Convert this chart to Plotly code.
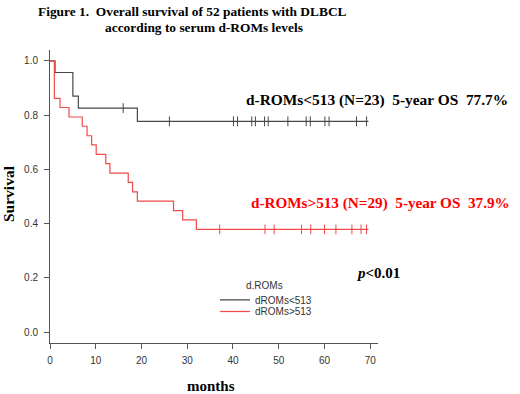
import plotly.graph_objects as go

# ---- data ----
black_name = "dROMs<513"
black_event_months = [1.1, 5.0, 6.2, 19.1]
black_surv = [0.957, 0.870, 0.826, 0.777]
black_censor_months = [16.0, 26.1, 40.1, 41.0, 44.1, 44.9, 46.9, 47.7, 52.0,
                       56.0, 56.9, 60.1, 61.0, 67.0, 69.2]
black_end_month = 69.6

red_name = "dROMs>513"
red_event_months = [0.95, 2.2, 4.15, 7.05, 8.1, 9.1, 10.1, 12.2, 13.1, 17.1,
                    18.05, 19.1, 27.0, 29.0, 32.0]
red_surv = [0.862, 0.828, 0.793, 0.759, 0.724, 0.690, 0.655, 0.621, 0.586,
            0.552, 0.517, 0.483, 0.448, 0.414, 0.379]
red_censor_months = [37.1, 47.0, 49.0, 55.0, 57.0, 60.0, 62.5, 66.0, 68.0, 69.2]
red_end_month = 69.6

x_ticks = [0, 10, 20, 30, 40, 50, 60, 70]
y_ticks = [0.0, 0.2, 0.4, 0.6, 0.8, 1.0]

BLACK = "#474747"
RED = "#f04a4a"
SERIF = "Liberation Serif, Times New Roman, serif"
SANS = "Liberation Sans, Arial, sans-serif"


def step_xy(events, surv, end):
    xs = [0.0] + list(events) + [end]
    ys = [1.0] + list(surv) + [surv[-1]]
    return xs, ys


def level_at(t, events, surv):
    s = 1.0
    for e, v in zip(events, surv):
        if e <= t:
            s = v
    return s


fig = go.Figure()
for name, ev, sv, cens, end, col, lg in [
    (black_name, black_event_months, black_surv, black_censor_months, black_end_month, BLACK, "legend"),
    (red_name, red_event_months, red_surv, red_censor_months, red_end_month, RED, "legend2"),
]:
    xs, ys = step_xy(ev, sv, end)
    fig.add_trace(go.Scatter(x=xs, y=ys, mode="lines", name=name,
                             line=dict(color=col, width=1.2, shape="hv"),
                             legend=lg))
    fig.add_trace(go.Scatter(x=cens, y=[level_at(c, ev, sv) for c in cens],
                             mode="markers", showlegend=False,
                             marker=dict(symbol="line-ns", size=7,
                                         line=dict(color=col, width=1))))

axis_common = dict(showline=True, linecolor="#555555", linewidth=1,
                   ticks="outside", ticklen=5, tickcolor="#555555",
                   showgrid=False, zeroline=False, automargin=False,
                   tickfont=dict(family=SANS, size=10, color="#333333"))

fig.update_layout(
    width=520, height=394,
    margin=dict(l=50, r=142, t=50, b=51),
    plot_bgcolor="white", paper_bgcolor="white",
    xaxis=dict(range=[0, 71.7], tickvals=x_ticks, ticklabelstandoff=3,
               **axis_common),
    yaxis=dict(range=[-0.04, 1.04], tickvals=y_ticks, tickformat=".1f",
               ticklabelstandoff=4, **axis_common),
    legend=dict(x=0.503, y=0.147, xanchor="left", yanchor="middle",
                bgcolor="rgba(0,0,0,0)",
                font=dict(family=SANS, size=10, color="#333333")),
    legend2=dict(x=0.503, y=0.1075, xanchor="left", yanchor="middle",
                 bgcolor="rgba(0,0,0,0)",
                 font=dict(family=SANS, size=10, color="#333333")),
)

# title
fig.add_annotation(xref="paper", yref="paper", x=-0.0427, y=1.131,
                   xanchor="left", yanchor="middle", showarrow=False,
                   text="<b>Figure 1.  Overall survival of 52 patients with DLBCL</b>",
                   font=dict(family=SERIF, size=13.4, color="black"))
fig.add_annotation(xref="paper", yref="paper", x=0.1607, y=1.077,
                   xanchor="left", yanchor="middle", showarrow=False,
                   text="<b>according to serum d-ROMs levels</b>",
                   font=dict(family=SERIF, size=13.4, color="black"))

# axis titles
fig.add_annotation(xref="paper", yref="paper", x=(211 - 50) / 328, y=(343 - 386.5) / 293,
                   xanchor="center", yanchor="middle", showarrow=False,
                   text="<b>months</b>",
                   font=dict(family=SERIF, size=15, color="black"))
fig.add_annotation(xref="paper", yref="paper", x=(8 - 50) / 328, y=(343 - 194) / 293,
                   xanchor="center", yanchor="middle", showarrow=False, textangle=-90,
                   text="<b>Survival</b>",
                   font=dict(family=SERIF, size=15.5, color="black"))

# group labels
fig.add_annotation(x=42.4, y=0.855, xanchor="left", yanchor="middle", showarrow=False,
                   text="<b>d-ROMs&lt;513 (N=23)  5-year OS  77.7%</b>",
                   font=dict(family=SERIF, size=15.4, color="black"))
fig.add_annotation(x=43.5, y=0.476, xanchor="left", yanchor="middle", showarrow=False,
                   text="<b>d-ROMs&gt;513 (N=29)  5-year OS  37.9%</b>",
                   font=dict(family=SERIF, size=15.2, color="#ff0000"))
fig.add_annotation(x=66.4, y=0.219, xanchor="left", yanchor="middle", showarrow=False,
                   text="<b><i>p</i>&lt;0.01</b>",
                   font=dict(family=SERIF, size=15, color="black"))
# legend title
fig.add_annotation(x=42.5, y=0.171, xanchor="left", yanchor="middle", showarrow=False,
                   text="d.ROMs",
                   font=dict(family=SANS, size=10, color="#333333"))

fig.write_html("out.html", config={"displayModeBar": False},
               post_script="document.body.style.margin='0px';")
